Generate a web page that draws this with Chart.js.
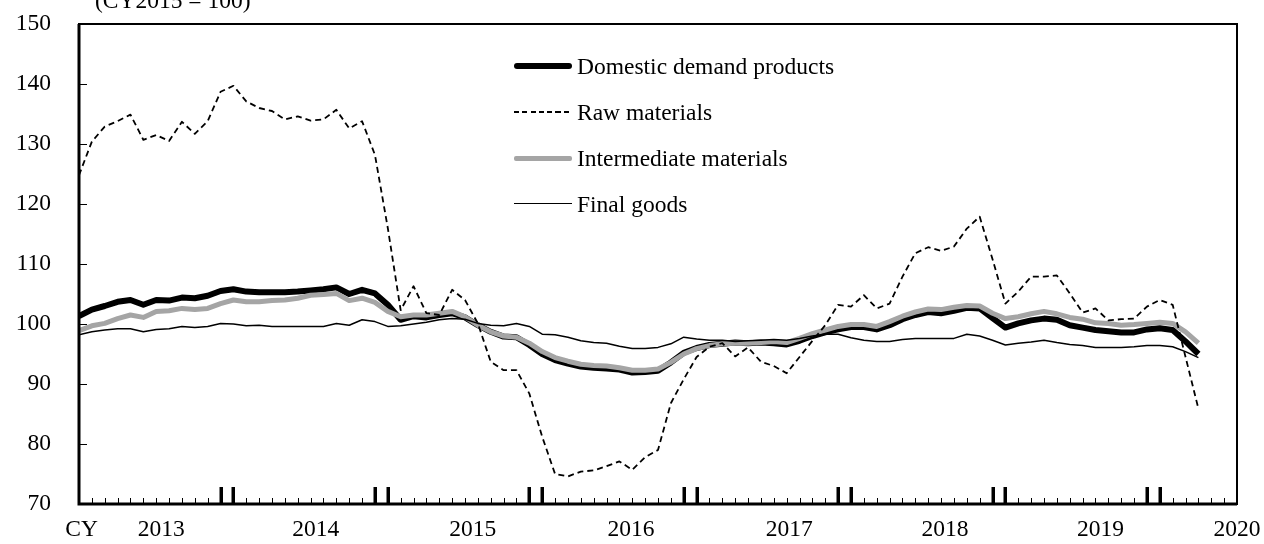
<!DOCTYPE html>
<html>
<head>
<meta charset="utf-8">
<script src="https://cdn.jsdelivr.net/npm/chart.js@4.4.0/dist/chart.umd.min.js"></script>
<style>
  body { margin: 0; background: #fff; }
  #wrap { position: relative; width: 1264px; height: 544px; }
  #chart { position: absolute; left: 0; top: 0; }
  .legend { position: absolute; left: 514px; top: 0; font-family: 'Liberation Serif', 'Times New Roman', serif; font-size: 23.5px; color: #000; }
  .row { position: absolute; left: 0; height: 30px; width: 400px; }
  .sample { position: absolute; left: 0; width: 58px; top: 15px; }
  .dash { height: 2px; margin-top: -1px; background: repeating-linear-gradient(to right, #000 0 5px, transparent 5px 8.3px); }
  .label { position: absolute; left: 63px; top: 0; line-height: 30px; white-space: nowrap; }
</style>
</head>
<body>
<div id="wrap">
  <canvas id="chart" width="1264" height="544"></canvas>
  <div class="legend">
    <div class="row" style="top:51px"><div class="sample" style="border-top:6px solid #000;margin-top:-3px;border-radius:3px"></div><div class="label">Domestic demand products</div></div>
    <div class="row" style="top:97px"><div class="sample dash"></div><div class="label">Raw materials</div></div>
    <div class="row" style="top:143px"><div class="sample" style="border-top:5px solid #a5a5a5;margin-top:-2px;border-radius:2px"></div><div class="label">Intermediate materials</div></div>
    <div class="row" style="top:189px"><div class="sample" style="border-top:1.5px solid #000;margin-top:-1px"></div><div class="label">Final goods</div></div>
  </div>
</div>
<script>
// Monthly index, Jan 2013 = 0 ... Apr 2020 = 87 (CY2015 = 100)
const domestic = [
  101.3, 102.4, 103.0, 103.7, 104.0, 103.2, 104.0, 103.9, 104.4, 104.3, 104.7, 105.5,
  105.8, 105.4, 105.3, 105.3, 105.3, 105.4, 105.6, 105.8, 106.1, 105.0, 105.7, 105.1,
  103.2, 100.7, 101.3, 101.1, 101.5, 101.8, 101.1, 99.8, 98.7, 97.9, 97.8, 96.5,
  95.0, 94.0, 93.4, 92.9, 92.7, 92.6, 92.4, 91.9, 92.0, 92.2, 93.6, 95.2,
  96.0, 96.5, 96.7, 96.9, 96.8, 96.9, 96.8, 96.6, 97.2, 98.0, 98.6, 99.1,
  99.5, 99.5, 99.1, 99.8, 100.8, 101.5, 102.0, 101.8, 102.2, 102.7, 102.6, 101.0,
  99.4, 100.1, 100.6, 100.9, 100.7, 99.8, 99.4, 99.0, 98.8, 98.6, 98.6, 99.1,
  99.3, 99.0, 97.1, 95.0
];
const rawMaterials = [
  124.8, 130.4, 132.9, 133.8, 134.9, 130.7, 131.5, 130.5, 133.7, 131.7, 133.8, 138.7,
  139.7, 137.1, 136.0, 135.5, 134.1, 134.6, 133.9, 134.1, 135.7, 132.6, 133.8, 128.2,
  116.0, 102.3, 106.3, 101.8, 101.5, 105.7, 104.0, 100.1, 93.7, 92.3, 92.3, 88.4,
  81.2, 75.0, 74.6, 75.4, 75.6, 76.3, 77.1, 75.7, 77.8, 79.0, 86.8, 90.8,
  94.5, 96.2, 96.8, 94.6, 96.1, 93.7, 93.0, 91.8, 94.5, 97.2, 99.8, 103.2,
  102.9, 104.8, 102.6, 103.4, 107.9, 111.8, 112.8, 112.2, 112.9, 115.9, 117.9, 110.8,
  103.4, 105.4, 107.9, 107.9, 108.1, 105.1, 101.9, 102.6, 100.6, 100.8, 100.9, 102.9,
  104.0, 103.2, 94.5, 85.9
];
const intermediate = [
  98.9, 99.7, 100.1, 100.9, 101.5, 101.1, 102.1, 102.2, 102.6, 102.4, 102.6, 103.4,
  104.0, 103.7, 103.7, 103.9, 104.0, 104.3, 104.8, 104.9, 105.1, 103.9, 104.3, 103.6,
  102.1, 101.2, 101.5, 101.5, 101.8, 102.1, 101.2, 99.8, 98.7, 98.0, 97.8, 96.8,
  95.4, 94.4, 93.8, 93.3, 93.1, 93.0, 92.7, 92.3, 92.3, 92.5, 93.6, 95.0,
  95.9, 96.4, 96.7, 96.8, 96.8, 96.9, 97.1, 96.9, 97.6, 98.4, 99.0, 99.6,
  99.9, 99.9, 99.6, 100.4, 101.3, 102.0, 102.5, 102.4, 102.8, 103.1, 103.0, 101.8,
  100.9, 101.2, 101.7, 102.1, 101.7, 101.1, 100.8, 100.2, 100.1, 99.8, 99.9, 100.1,
  100.3, 100.1, 98.7, 96.8
];
const finalGoods = [
  98.2, 98.7, 99.0, 99.2, 99.2, 98.7, 99.1, 99.2, 99.6, 99.4, 99.6, 100.1,
  100.0, 99.7, 99.8, 99.6, 99.6, 99.6, 99.6, 99.6, 100.1, 99.8, 100.7, 100.4,
  99.6, 99.7, 100.0, 100.3, 100.7, 100.9, 100.8, 100.1, 99.8, 99.7, 100.1, 99.6,
  98.3, 98.2, 97.8, 97.2, 96.9, 96.8, 96.3, 95.9, 95.9, 96.1, 96.7, 97.8,
  97.5, 97.3, 97.3, 97.1, 97.2, 97.3, 97.4, 97.3, 97.6, 98.0, 98.3, 98.3,
  97.7, 97.3, 97.1, 97.1, 97.4, 97.6, 97.6, 97.6, 97.6, 98.3, 98.0, 97.3,
  96.5, 96.8, 97.0, 97.3, 96.9, 96.6, 96.4, 96.1, 96.1, 96.1, 96.2, 96.4,
  96.4, 96.2, 95.4, 94.4
];

// x axis labels (position in months from Jan 2013)
const xLabels = ['CY', '2013', '2014', '2015', '2016', '2017', '2018', '2019', '2020'];
const xLabelPos = [0.2, 6.4, 18.4, 30.6, 42.9, 55.2, 67.3, 79.4, 90];
const yTicks = [70, 80, 90, 100, 110, 120, 130, 140, 150];
const monthSpan = 90;
const yTitle = '(CY2015 = 100)';

const FONT = "'Liberation Serif', 'Times New Roman', serif";

function toPoints(arr) {
  return arr.map(function(v, i) { return { x: i, y: v }; });
}

// Cadre, graduations et titre de l'axe
const framePlugin = {
  id: 'frame',
  afterDatasetsDraw(chart) {
    const ctx = chart.ctx;
    const a = chart.chartArea;
    const x = chart.scales.x;
    const y = chart.scales.y;
    ctx.save();
    ctx.strokeStyle = '#000';
    ctx.fillStyle = '#000';

    // graduations de l'axe Y vers l'intérieur
    ctx.lineWidth = 1;
    yTicks.forEach(function(v) {
      const py = Math.round(y.getPixelForValue(v)) + 0.5;
      ctx.beginPath();
      ctx.moveTo(a.left, py);
      ctx.lineTo(a.left + 8, py);
      ctx.stroke();
    });

    // graduations mensuelles, doubles traits épais en fin d'année
    for (let m = 1; m < monthSpan; m++) {
      const px = Math.round(x.getPixelForValue(m));
      const thick = (m % 12 === 11 || m % 12 === 0);
      if (thick) {
        ctx.fillRect(px - 1.5, a.bottom - 17, 3.5, 17);
      } else {
        ctx.fillRect(px, a.bottom - 6, 1, 6);
      }
    }

    // cadre
    ctx.lineWidth = 2;
    ctx.strokeRect(a.left, a.top, a.right - a.left, a.bottom - a.top);
    ctx.lineWidth = 3;
    ctx.beginPath();
    ctx.moveTo(a.left, a.top);
    ctx.lineTo(a.left, a.bottom);
    ctx.lineTo(a.right, a.bottom);
    ctx.stroke();

    // titre
    ctx.font = '23.5px ' + FONT;
    ctx.textBaseline = 'alphabetic';
    ctx.textAlign = 'left';
    ctx.fillText(yTitle, 95, 8);
    ctx.restore();
  }
};

const ctx = document.getElementById('chart').getContext('2d');
new Chart(ctx, {
  type: 'line',
  data: {
    datasets: [
      {
        label: 'Final goods',
        data: toPoints(finalGoods),
        borderColor: '#000',
        borderWidth: 1.5
      },
      {
        label: 'Raw materials',
        data: toPoints(rawMaterials),
        borderColor: '#000',
        borderWidth: 1.8,
        borderDash: [6, 4]
      },
      {
        label: 'Intermediate materials',
        data: toPoints(intermediate),
        borderColor: '#a5a5a5',
        borderWidth: 5
      },
      {
        label: 'Domestic demand products',
        data: toPoints(domestic),
        borderColor: '#000',
        borderWidth: 6
      }
    ]
  },
  options: {
    responsive: false,
    animation: false,
    layout: { padding: { top: 24, right: 27, left: 0, bottom: 0 } },
    elements: {
      point: { radius: 0 },
      line: { tension: 0, fill: false, borderJoinStyle: 'round', borderCapStyle: 'butt' }
    },
    plugins: {
      legend: { display: false },
      tooltip: { enabled: false }
    },
    scales: {
      x: {
        type: 'linear',
        min: 0,
        max: monthSpan,
        grid: { display: false, drawTicks: false },
        border: { display: false },
        afterBuildTicks: function(scale) {
          scale.ticks = xLabelPos.map(function(v) { return { value: v }; });
        },
        afterFit: function(scale) {
          scale.height = 40;
          scale.paddingLeft = 0;
          scale.paddingRight = 0;
        },
        ticks: {
          autoSkip: false,
          maxRotation: 0,
          padding: 12,
          color: '#000',
          font: { family: FONT, size: 23.5 },
          callback: function(value, index) { return xLabels[index]; }
        }
      },
      y: {
        min: 70,
        max: 150,
        grid: { display: false, drawTicks: false },
        border: { display: false },
        afterFit: function(scale) {
          scale.width = 79;
          scale.paddingTop = 0;
          scale.paddingBottom = 0;
        },
        ticks: {
          stepSize: 10,
          padding: 28,
          color: '#000',
          font: { family: FONT, size: 23.5 }
        }
      }
    }
  },
  plugins: [framePlugin]
});
</script>
</body>
</html>
